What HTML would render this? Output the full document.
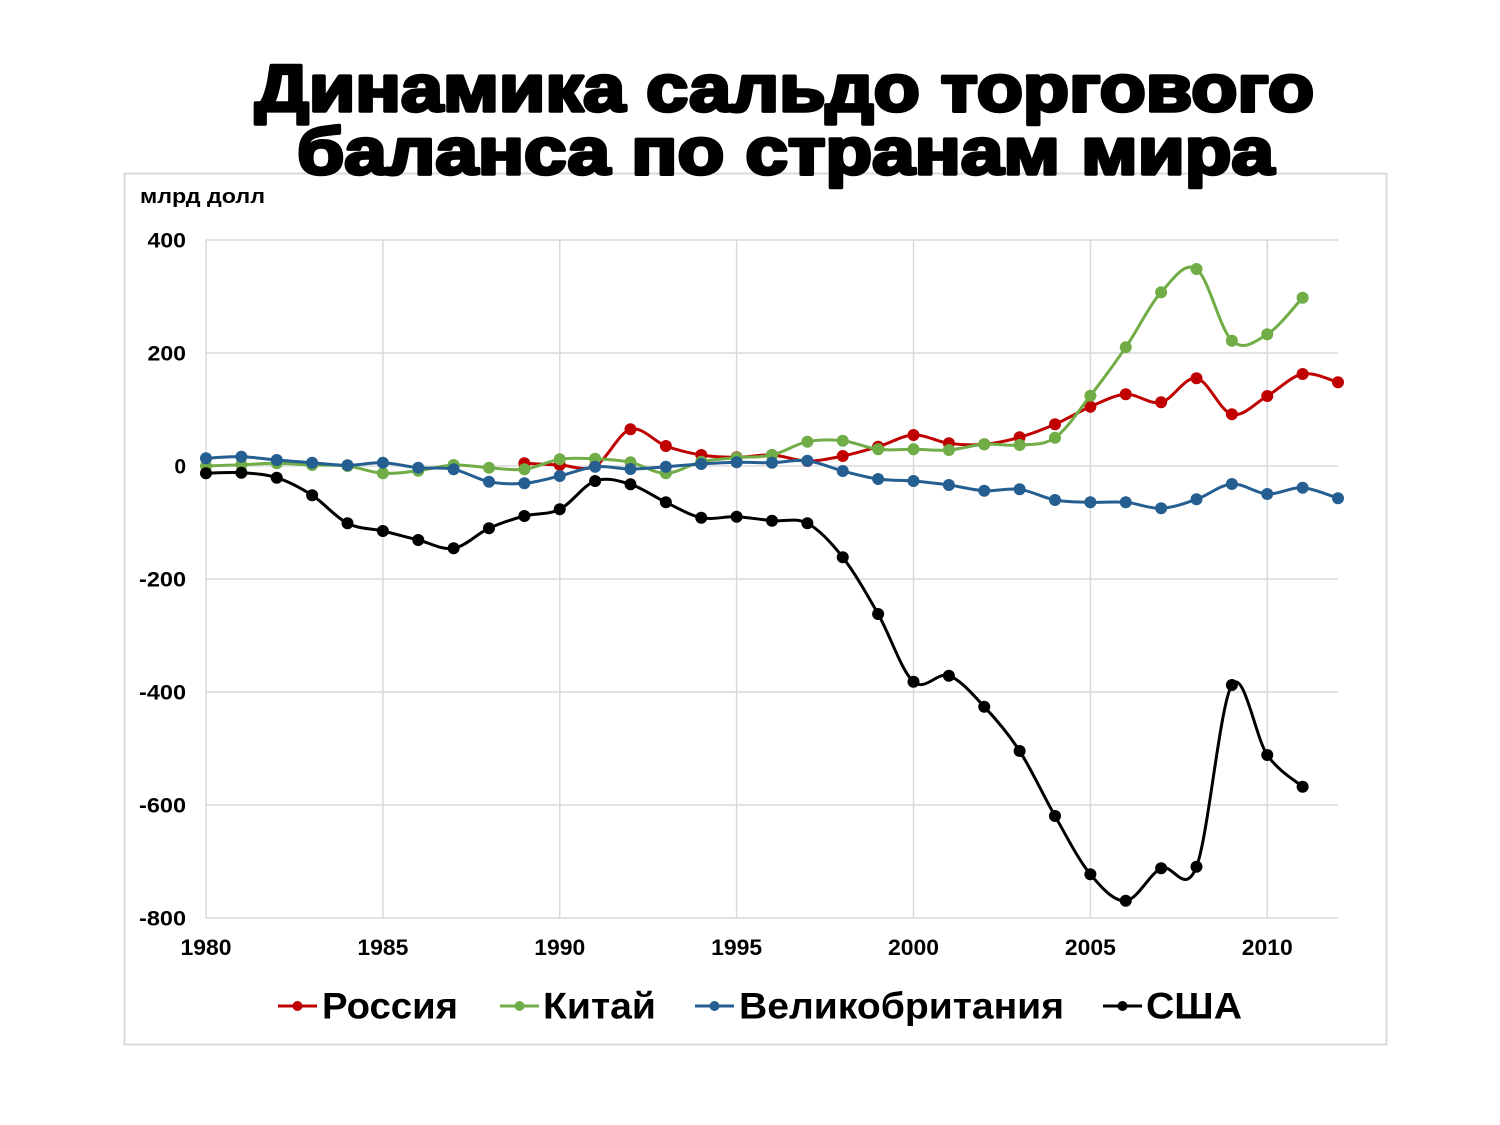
<!DOCTYPE html>
<html><head><meta charset="utf-8"><style>
html,body{margin:0;padding:0;background:#fff;}
svg{display:block;}
text{font-family:"Liberation Sans",Arial,sans-serif;font-weight:bold;fill:#000;}
</style></head><body>
<svg id="s" width="1500" height="1125" viewBox="0 0 1500 1125" xmlns="http://www.w3.org/2000/svg">
<rect x="0" y="0" width="1500" height="1125" fill="#fff"/>
<rect x="124.5" y="173.5" width="1262" height="871" fill="none" stroke="#d9d9d9" stroke-width="2"/>
<g id="grid" stroke="#d9d9d9" stroke-width="1.5" fill="none">
<line x1="206" y1="240" x2="1338" y2="240"/>
<line x1="206" y1="353" x2="1338" y2="353"/>
<line x1="206" y1="466" x2="1338" y2="466"/>
<line x1="206" y1="579" x2="1338" y2="579"/>
<line x1="206" y1="692" x2="1338" y2="692"/>
<line x1="206" y1="805" x2="1338" y2="805"/>
<line x1="206" y1="918" x2="1338" y2="918"/>
<line x1="206" y1="240" x2="206" y2="918"/>
<line x1="382.9" y1="240" x2="382.9" y2="918"/>
<line x1="559.75" y1="240" x2="559.75" y2="918"/>
<line x1="736.6" y1="240" x2="736.6" y2="918"/>
<line x1="913.5" y1="240" x2="913.5" y2="918"/>
<line x1="1090.4" y1="240" x2="1090.4" y2="918"/>
<line x1="1267.25" y1="240" x2="1267.25" y2="918"/>
</g>
<g font-size="21" text-anchor="end">
<text x="186" y="247.3" textLength="38.5" lengthAdjust="spacingAndGlyphs">400</text>
<text x="186" y="360.3" textLength="38.5" lengthAdjust="spacingAndGlyphs">200</text>
<text x="186" y="473.3">0</text>
<text x="186" y="586.3" textLength="47" lengthAdjust="spacingAndGlyphs">-200</text>
<text x="186" y="699.3" textLength="47" lengthAdjust="spacingAndGlyphs">-400</text>
<text x="186" y="812.3" textLength="47" lengthAdjust="spacingAndGlyphs">-600</text>
<text x="186" y="925.3" textLength="47" lengthAdjust="spacingAndGlyphs">-800</text>
</g>
<g font-size="22" text-anchor="middle">
<text x="206" y="955" textLength="51" lengthAdjust="spacingAndGlyphs">1980</text>
<text x="382.9" y="955" textLength="51" lengthAdjust="spacingAndGlyphs">1985</text>
<text x="559.75" y="955" textLength="51" lengthAdjust="spacingAndGlyphs">1990</text>
<text x="736.6" y="955" textLength="51" lengthAdjust="spacingAndGlyphs">1995</text>
<text x="913.5" y="955" textLength="51" lengthAdjust="spacingAndGlyphs">2000</text>
<text x="1090.4" y="955" textLength="51" lengthAdjust="spacingAndGlyphs">2005</text>
<text x="1267.25" y="955" textLength="51" lengthAdjust="spacingAndGlyphs">2010</text>
</g>
<text x="140" y="203" font-size="20" textLength="125" lengthAdjust="spacingAndGlyphs">млрд долл</text>
<g id="series"></g>
<g font-size="37">
<line x1="278" y1="1006" x2="317" y2="1006" stroke="#c00000" stroke-width="3"/><circle cx="297.5" cy="1006" r="5" fill="#c00000"/>
<text x="322" y="1018.5" textLength="136" lengthAdjust="spacingAndGlyphs">Россия</text>
<line x1="500" y1="1006" x2="539" y2="1006" stroke="#70ad47" stroke-width="3"/><circle cx="519.5" cy="1006" r="5" fill="#70ad47"/>
<text x="543" y="1018.5" textLength="113" lengthAdjust="spacingAndGlyphs">Китай</text>
<line x1="695" y1="1006" x2="734" y2="1006" stroke="#255e91" stroke-width="3"/><circle cx="714.5" cy="1006" r="5" fill="#255e91"/>
<text x="739" y="1018.5" textLength="325" lengthAdjust="spacingAndGlyphs">Великобритания</text>
<line x1="1103" y1="1006" x2="1142" y2="1006" stroke="#000" stroke-width="3"/><circle cx="1122.5" cy="1006" r="5" fill="#000"/>
<text x="1146" y="1018.5" textLength="96" lengthAdjust="spacingAndGlyphs">США</text>
</g>
<g font-size="66" stroke="#000" stroke-width="3.5" stroke-linejoin="round">
<text x="255" y="111" textLength="1059" lengthAdjust="spacingAndGlyphs">Динамика сальдо торгового</text>
<text x="297" y="174" textLength="977" lengthAdjust="spacingAndGlyphs">баланса по странам мира</text>
</g>
</svg>
<script>
(function(){
var X=function(i){return 206+35.375*i;};
var S=[
 {c:"#255e91",s:0,d:[458.3,456.7,460,462.7,465.3,462.7,467.7,469.3,481.7,483.3,476,466.7,469,466.7,464,462.3,462.7,460.7,471,479,481,485,490.7,489.3,500,502.3,502.3,508.3,499.3,484,494,487.7,498.3]},
 {c:"#70ad47",s:0,d:[466,464.7,463.3,465,466,473.3,470.7,465,467.7,469.3,459.3,458.8,462.3,473.3,461.7,457.7,455,441.7,440.7,449.3,449.3,450,444.3,445,437.7,395.7,347.3,292.3,269,340.7,334.3,297.7]},
 {c:"#c00000",s:9,d:[463.3,465,466,429.3,446,455,457.3,455,461,456,446.7,435,443.3,444.3,437.3,424.3,406.7,394.3,402.3,378.3,414.3,396,374,382.3]},
 {c:"#000000",s:0,d:[473.3,472.7,477.7,495.3,523.3,531,540,548.3,528.3,516,509.3,481,484.3,502.3,517.7,516.7,520.7,523.3,557.3,614,681.7,675.7,706.7,751,816,874.3,900.7,868.3,866.7,685,755,786.7]}
];
var g=document.getElementById("series"),ns="http://www.w3.org/2000/svg";
var order=[2,1,0,3];
// draw in order: UK, China, Russia, USA? Use series order as in reference (Russia first, then China, UK, USA on top)
var drawOrder=[2,1,0,3];
drawOrder.forEach(function(k){
 var s=S[k],p=s.d.map(function(y,i){return [X(i+s.s),y];});
 var t=1/6,d="M"+p[0][0].toFixed(2)+","+p[0][1].toFixed(2);
 for(var i=0;i<p.length-1;i++){
  var p0=p[i>0?i-1:i],p1=p[i],p2=p[i+1],p3=p[i+2<p.length?i+2:i+1];
  var c1=[p1[0]+(p2[0]-p0[0])*t,p1[1]+(p2[1]-p0[1])*t];
  var c2=[p2[0]-(p3[0]-p1[0])*t,p2[1]-(p3[1]-p1[1])*t];
  d+=" C"+c1[0].toFixed(2)+","+c1[1].toFixed(2)+" "+c2[0].toFixed(2)+","+c2[1].toFixed(2)+" "+p2[0].toFixed(2)+","+p2[1].toFixed(2);
 }
 var path=document.createElementNS(ns,"path");
 path.setAttribute("d",d);path.setAttribute("fill","none");path.setAttribute("stroke",s.c);
 path.setAttribute("stroke-width","3");path.setAttribute("stroke-linejoin","round");
 g.appendChild(path);
 p.forEach(function(q){
  var c=document.createElementNS(ns,"circle");
  c.setAttribute("cx",q[0]);c.setAttribute("cy",q[1]);c.setAttribute("r","6");c.setAttribute("fill",s.c);
  g.appendChild(c);
 });
});
})();
</script>
</body></html>
